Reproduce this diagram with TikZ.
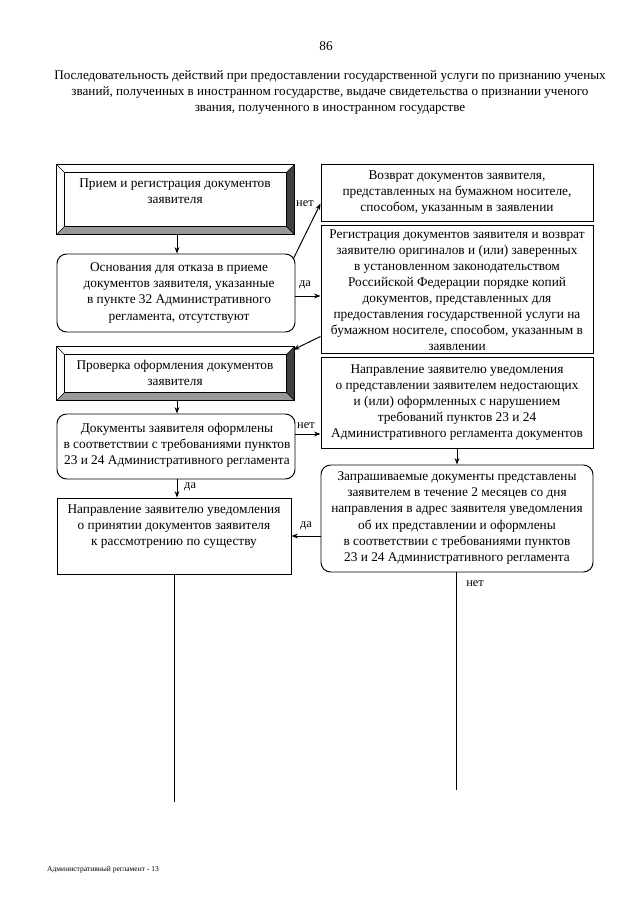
\documentclass[tikz,border=0pt]{standalone}
\usepackage{fontspec}
\setmainfont{Liberation Serif}
\usetikzlibrary{arrows.meta,calc,fit}

\begin{document}
\begin{tikzpicture}[x=0.93pt,y=-0.93pt,
  every node/.style={font=\fontsize{12.4}{14.9}\selectfont, inner sep=0pt},
  boxshape/.style={draw, line width=0.9pt, inner sep=0pt},
  rbox/.style={boxshape, rounded corners=9pt},
  txt/.style={align=center},
  lbl/.style={font=\fontsize{11.5}{13}\selectfont},
  arr/.style={line width=0.9pt, -{Stealth[length=6pt,width=4.5pt]}},
  ln/.style={line width=0.9pt}]
\useasboundingbox (0,0) rectangle (640,905);

\newcommand\bevelbox[1]{%
  \fill[black!40] (#1.south west) -- (#1.south east) -- ([shift={(-8,-8)}]#1.south east) -- ([shift={(8,-8)}]#1.south west) -- cycle;
  \fill[black!75] (#1.north east) -- (#1.south east) -- ([shift={(-8,-8)}]#1.south east) -- ([shift={(-8,8)}]#1.north east) -- cycle;
  \draw[line width=0.9pt] (#1.north west) rectangle (#1.south east);
  \draw[line width=0.7pt] ([shift={(8,8)}]#1.north west) rectangle ([shift={(-8,-8)}]#1.south east);
  \draw[line width=0.6pt] (#1.north west) -- ([shift={(8,8)}]#1.north west)
     (#1.north east) -- ([shift={(-8,8)}]#1.north east)
     (#1.south west) -- ([shift={(8,-8)}]#1.south west)
     (#1.south east) -- ([shift={(-8,-8)}]#1.south east);
}

% header
\node (page) at (326,46) {86};
\node[txt, font=\fontsize{12.2}{14.9}\selectfont] (title) at (330,92)
 {Последовательность действий при предоставлении государственной услуги по признанию ученых\\
  званий, полученных в иностранном государстве, выдаче свидетельства о признании ученого\\
  звания, полученного в иностранном государстве};

% left column
\node[inner sep=0pt, fit={(57,165) (294,234)}] (b1) {};
\bevelbox{b1}
\node[txt] (t1) at (175,191) {Прием и регистрация документов\\заявителя};

\node[rbox, fit={(57,254) (295,332)}] (b2) {};
\node[txt] (t2) at (179,293) {Основания для отказа в приеме\\документов заявителя, указанные\\в пункте 32 Административного\\регламента, отсутствуют};

\node[inner sep=0pt, fit={(57,347) (294,400)}] (b3) {};
\bevelbox{b3}
\node[txt] (t3) at (175,373) {Проверка оформления документов\\заявителя};

\node[rbox, fit={(57,414) (295,479)}] (b4) {};
\node[txt] (t4) at (177,445) {Документы заявителя оформлены\\в соответствии с требованиями пунктов\\23 и 24 Административного регламента};

\node[boxshape, fit={(57,498) (291,574)}] (b5) {};
\node[txt] (t5) at (174,527) {Направление заявителю уведомления\\о принятии документов заявителя\\к рассмотрению по существу};

% right column
\node[boxshape, fit={(321,164) (593,221)}] (r1) {};
\node[txt] (r1t) at (457,193) {Возврат документов заявителя,\\представленных на бумажном носителе,\\способом, указанным в заявлении};

\node[boxshape, fit={(321,225) (593,353)}] (r2) {};
\node[txt] (r2t) at (457,290) {Регистрация документов заявителя и возврат\\заявителю оригиналов и (или) заверенных\\в установленном законодательством\\Российской Федерации порядке копий\\документов, представленных для\\предоставления государственной услуги на\\бумажном носителе, способом, указанным в\\заявлении};

\node[boxshape, fit={(321,357) (593,448)}] (r3) {};
\node[txt] (r3t) at (457,403) {Направление заявителю уведомления\\о представлении заявителем недостающих\\и (или) оформленных с нарушением\\требований пунктов 23 и 24\\Административного регламента документов};

\node[rbox, fit={(321,465) (593,572)}] (r4) {};
\node[txt] (r4t) at (457,518) {Запрашиваемые документы представлены\\заявителем в течение 2 месяцев со дня\\направления в адрес заявителя уведомления\\об их представлении и оформлены\\в соответствии с требованиями пунктов\\23 и 24 Административного регламента};

% connectors
\coordinate (c1) at (177,0);
\draw[arr] (b1.south -| c1) -- (b2.north -| c1);
\draw[arr] (b3.south -| c1) -- (b4.north -| c1);
\draw[arr] (b4.south -| c1) -- (b5.north -| c1);
\node[lbl, anchor=west] (lda1) at (184,487) {да};

\draw[arr] ([shift={(-2,5)}]b2.north east) -- ([shift={(0,40)}]r1.north west);
\node[lbl] (lnet1) at (305,204) {нет};

\coordinate (y2) at (0,296);
\draw[arr] (b2.east |- y2) -- (r2.west |- y2);
\node[lbl] (lda2) at (305,285) {да};

\draw[arr] ([shift={(0,-17)}]r2.south west) -- ([shift={(-1,3)}]b3.north east);

\coordinate (y4) at (0,434);
\draw[arr] (b4.east |- y4) -- (r3.west |- y4);
\node[lbl] (lnet2) at (306,426) {нет};

\coordinate (c2) at (457,0);
\draw[arr] (r3.south -| c2) -- (r4.north -| c2);

\coordinate (y5) at (0,536);
\draw[arr] (r4.west |- y5) -- (b5.east |- y5);
\node[lbl] (lda3) at (306,526) {да};

\coordinate (e1) at (174,802);
\draw[ln] (b5.south -| e1) -- (e1);
\coordinate (e2) at (456,790);
\draw[ln] (r4.south -| e2) -- (e2);
\node[lbl] (lnet3) at (475,584) {нет};

% footer
\node[anchor=west, font=\fontsize{7}{8}\selectfont] (foot) at (47,870) {Административный регламент - 13};
\end{tikzpicture}
\end{document}
